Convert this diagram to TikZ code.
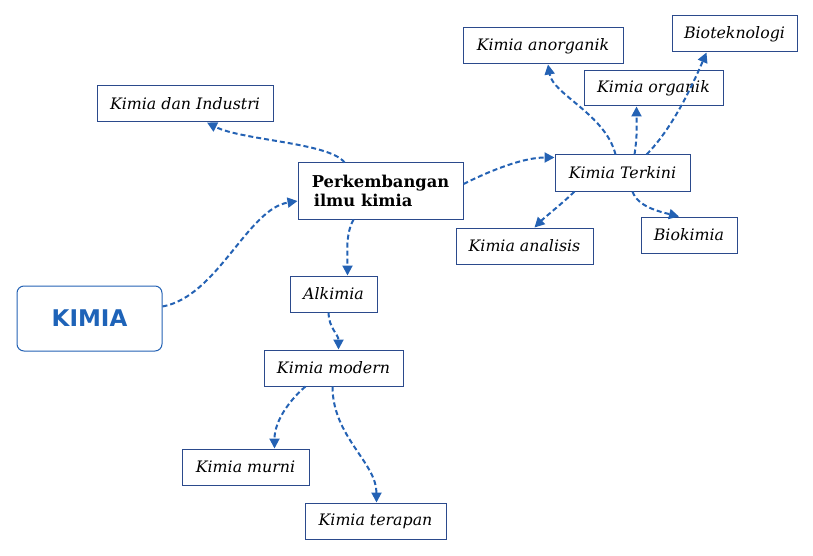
\documentclass[tikz,border=0pt]{standalone}
\usepackage{fontspec}
\setmainfont{DejaVu Serif}
\newfontfamily\kimiafont{DejaVu Sans}
\usetikzlibrary{arrows.meta,calc}
\definecolor{boxline}{HTML}{2B4A8C}
\definecolor{arrowblue}{HTML}{2462B4}
\definecolor{titleblue}{HTML}{1E63B8}
\begin{document}
\begin{tikzpicture}[x=1pt,y=-1pt,
  box/.style={draw=boxline, line width=1pt, fill=white, inner sep=0pt, font=\itshape\fontsize{15.8}{18}\selectfont},
  conn/.style={draw=arrowblue, line width=2pt, dash pattern=on 5pt off 3pt, -{Triangle[length=10pt,width=10pt]}}]
\useasboundingbox (0,0) rectangle (813,556);
\node[box, rounded corners=7pt, draw=arrowblue, minimum width=145pt, minimum height=65pt, font=\kimiafont\bfseries\fontsize{23}{26}\selectfont, text=titleblue] (kimia) at (89.5,318.5) {KIMIA};
\node[box, minimum width=165pt, minimum height=56pt, font=\bfseries\fontsize{16.3}{19}\selectfont, align=left] (perk) at (380.5,191) {Perkembangan\\\hspace{2pt}ilmu kimia};
\node[box, minimum width=87pt, minimum height=36pt] (alk) at (333.5,294) {Alkimia};
\node[box, minimum width=139pt, minimum height=36pt] (modern) at (333.5,368) {Kimia modern};
\node[box, minimum width=127pt, minimum height=36pt] (murni) at (245.5,467) {Kimia murni};
\node[box, minimum width=141pt, minimum height=36pt] (terapan) at (375.5,521) {Kimia terapan};
\node[box, minimum width=176pt, minimum height=36pt] (industri) at (185,104) {Kimia dan Industri};
\node[box, minimum width=160pt, minimum height=36pt] (anorg) at (543,46) {Kimia anorganik};
\node[box, minimum width=125pt, minimum height=36pt] (biotek) at (734.5,34) {Bioteknologi};
\node[box, minimum width=139pt, minimum height=35pt] (organik) at (653.5,88.5) {Kimia organik};
\node[box, minimum width=135pt, minimum height=36pt] (terkini) at (622.5,173) {Kimia Terkini};
\node[box, minimum width=137pt, minimum height=36pt] (analisis) at (524.5,246) {Kimia analisis};
\node[box, minimum width=96pt, minimum height=36pt] (biokimia) at (689,235) {Biokimia};

\draw[conn] ($(kimia.east)+(0,-12)$) .. controls +(55,-10) and +(-50,8) .. ($(perk.west)+(0,10)$);
\draw[conn] ($(perk.north west)+(47,0)$) .. controls +(-15,-20) and +(35,18) .. ($(industri.south)+(22,0)$);
\draw[conn] ($(perk.south west)+(56,0)$) .. controls +(-8,15) and +(0,-25) .. ($(alk.north)+(14,0)$);
\draw[conn] ($(alk.south)+(-5,0)$) .. controls +(0,15) and +(0,-15) .. ($(modern.north)+(5,0)$);
\draw[conn] ($(modern.south)+(-28,0)$) .. controls +(-12,10) and +(0,-30) .. ($(murni.north)+(29,0)$);
\draw[conn] ($(modern.south)+(-1,0)$) .. controls +(0,50) and +(0,-40) .. ($(terapan.north)+(1,0)$);
\draw[conn] ($(perk.east)+(0,-7)$) .. controls +(30,-15) and +(-30,0) .. ($(terkini.north west)+(0,3)$);
\draw[conn] ($(terkini.north west)+(61,0)$) .. controls +(-10,-40) and +(5,30) .. ($(anorg.south)+(5,0)$);
\draw[conn] ($(terkini.north west)+(80,0)$) .. controls +(3,-20) and +(0,20) .. ($(organik.south west)+(53,0)$);
\draw[conn] ($(terkini.north west)+(92,0)$) .. controls +(25,-25) and +(-15,35) .. ($(biotek.south)+(-28,0)$);
\draw[conn] ($(terkini.south west)+(20,0)$) .. controls +(-10,10) and +(10,-10) .. ($(analisis.north)+(10,0)$);
\draw[conn] ($(terkini.south west)+(78,0)$) .. controls +(5,15) and +(-20,-5) .. ($(biokimia.north)+(-10,0)$);
\end{tikzpicture}
\end{document}
